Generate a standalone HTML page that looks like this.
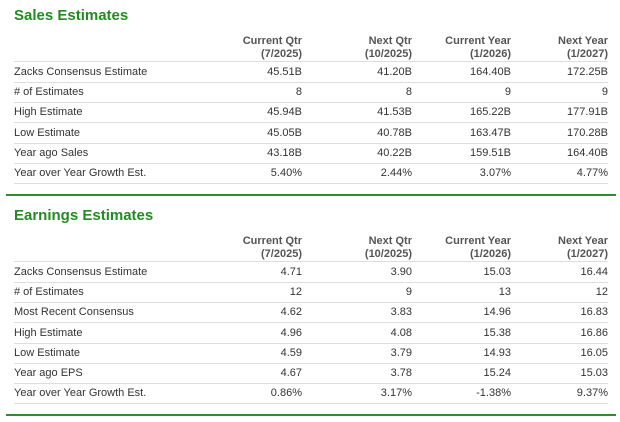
<!DOCTYPE html>
<html><head><meta charset="utf-8"><style>
body{margin:0;width:620px;height:422px;background:#fff;font-family:"Liberation Sans",Arial,sans-serif;overflow:hidden;position:relative}
.t{position:absolute;left:14px;font-size:15px;font-weight:bold;color:#238b23}
.g{position:absolute;left:6px;width:610px;height:2px;background:#2e8b2e}
.h{position:absolute;font-size:11px;font-weight:bold;color:#555;text-align:right;line-height:13px}
.r{position:absolute;left:14px;width:594px;height:20px;border-bottom:1px solid #ddd;font-size:11px;color:#333;line-height:20px}
.r span{position:absolute;text-align:right}
.hl{position:absolute;left:14px;width:594px;border-top:1px solid #ddd}
</style></head><body>
<div id="root"></div>
<script>
const cols=[302,412,511,608];
const heads=[["Current Qtr","(7/2025)"],["Next Qtr","(10/2025)"],["Current Year","(1/2026)"],["Next Year","(1/2027)"]];
const sales=[["Zacks Consensus Estimate","45.51B","41.20B","164.40B","172.25B"],["# of Estimates","8","8","9","9"],["High Estimate","45.94B","41.53B","165.22B","177.91B"],["Low Estimate","45.05B","40.78B","163.47B","170.28B"],["Year ago Sales","43.18B","40.22B","159.51B","164.40B"],["Year over Year Growth Est.","5.40%","2.44%","3.07%","4.77%"]];
const earn=[["Zacks Consensus Estimate","4.71","3.90","15.03","16.44"],["# of Estimates","12","9","13","12"],["Most Recent Consensus","4.62","3.83","14.96","16.83"],["High Estimate","4.96","4.08","15.38","16.86"],["Low Estimate","4.59","3.79","14.93","16.05"],["Year ago EPS","4.67","3.78","15.24","15.03"],["Year over Year Growth Est.","0.86%","3.17%","-1.38%","9.37%"]];
function section(title,top,rows,name){
  const s=document.createElement('div');
  
  
  const t=document.createElement('div');t.className='t';t.style.top=(top-7)+'px';t.textContent=title;
  
  
  s.appendChild(t);
  heads.forEach((h,i)=>{const d=document.createElement('div');d.className='h';
    d.style.top=(top+21)+'px';d.style.left=(cols[i]-100)+'px';d.style.width='100px';
    d.innerHTML=h[0]+'<br>'+h[1];
    
    
    s.appendChild(d);});
  const hl=document.createElement('div');hl.className='hl';hl.style.top=(top+47)+'px';
  
  
  s.appendChild(hl);
  rows.forEach((r,k)=>{const d=document.createElement('div');d.className='r';d.style.top=(top+48+k*20.2)+'px';
    
    
    const l=document.createElement('span');l.style.left='0';l.style.textAlign='left';l.textContent=r[0];
    
    
    d.appendChild(l);
    for(let i=0;i<4;i++){const c=document.createElement('span');c.style.left=(cols[i]-14-100)+'px';c.style.width='100px';c.textContent=r[i+1];
      
      
      d.appendChild(c);}
    s.appendChild(d);});
  const g=document.createElement('div');g.className='g';g.style.top=(top+48+rows.length*20.2+11)+'px';
  
  
  s.appendChild(g);
  document.getElementById('root').appendChild(s);
}
section('Sales Estimates',14,sales,'sales-estimates-table');
section('Earnings Estimates',214,earn,'earnings-estimates-table');
</script>
</body></html>
